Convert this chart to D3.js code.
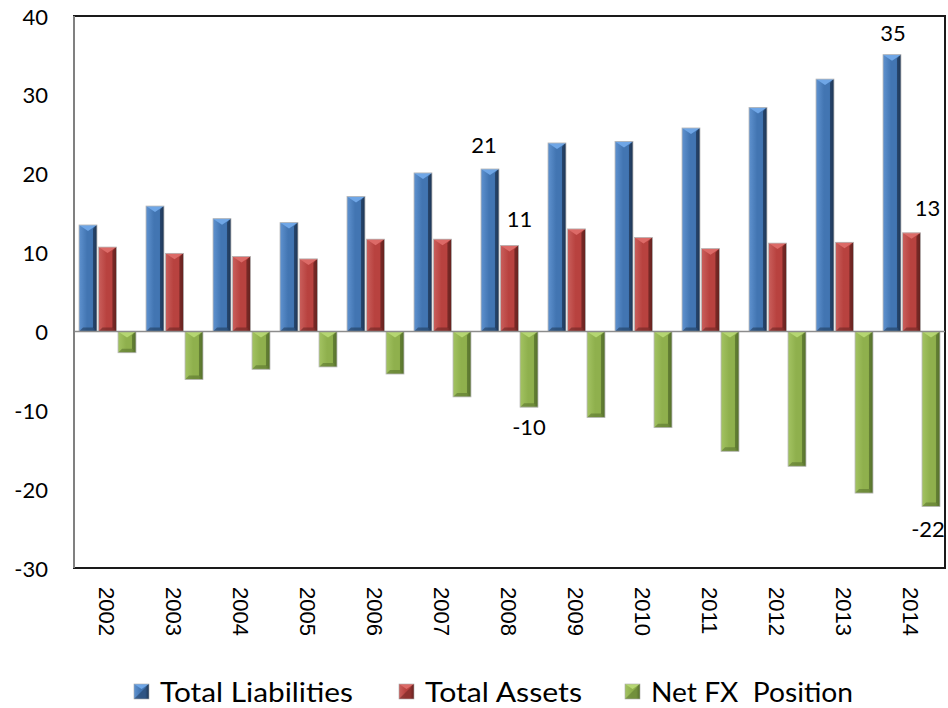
<!DOCTYPE html>
<html lang="en">
<head>
<meta charset="UTF-8">
<script src="https://d3js.org/d3.v7.min.js"></script>
<style>
  body { margin: 0; background: #fff; }
  .num { font: 22px Lato, "Open Sans", sans-serif; fill: #000; }
  .year { font: 22px "Liberation Sans", Arial, sans-serif; fill: #000; }
  .legend { font: 26px Lato, "Open Sans", sans-serif; fill: #000; white-space: pre; }
</style>
</head>
<body>
<svg width="948" height="708"></svg>
<script>
// values
var years = ["2002","2003","2004","2005","2006","2007","2008","2009","2010","2011","2012","2013","2014"];
var liabilities = [13.5, 15.9, 14.3, 13.8, 17.1, 20.1, 20.6, 23.9, 24.1, 25.8, 28.4, 32.0, 35.1];
var assets = [10.7, 9.9, 9.5, 9.2, 11.7, 11.7, 10.9, 13.0, 11.9, 10.5, 11.2, 11.3, 12.5];
var netFx = [-2.7, -6.1, -4.8, -4.5, -5.4, -8.3, -9.6, -10.9, -12.2, -15.2, -17.1, -20.5, -22.2];
var seriesNames = ["Total Liabilities", "Total Assets", "Net FX  Position"];
var yTicks = [40, 30, 20, 10, 0, -10, -20, -30];
// data labels shown on the chart (year, series index, text)
var labels = [
  {year: "2008", s: 0, text: "21", dx: -6, dy: -16},
  {year: "2008", s: 1, text: "11", dx: 10, dy: -18},
  {year: "2008", s: 2, text: "-10", dx: 0, dy: 28},
  {year: "2014", s: 0, text: "35", dx: 1, dy: -14},
  {year: "2014", s: 1, text: "13", dx: 16, dy: -17},
  {year: "2014", s: 2, text: "-22", dx: -3, dy: 31}
];

var colors = [
  {base: "#4275b2", light: "#5f92cf", top: "#6fa6e6", dark: "#1e3655"},
  {base: "#b8423f", light: "#c95f5c", top: "#dc6a67", dark: "#652220"},
  {base: "#8fb04d", light: "#a3c362", top: "#b5d672", dark: "#56702c"}
];

var seriesData = [liabilities, assets, netFx];

var svg = d3.select("svg"),
    plotL = 74, plotR = 945, plotT = 16, plotB = 568;

var x0 = d3.scaleBand().domain(years).range([plotL, plotR]).paddingInner(0.15).paddingOuter(0.075);
var x1 = d3.scaleBand().domain([0, 1, 2]).range([0, x0.bandwidth()]).paddingInner(0.08);
var y = d3.scaleLinear().domain([-30, 40]).range([plotB, plotT]);

var defs = svg.append("defs");
colors.forEach(function(c, i) {
  var g = defs.append("linearGradient").attr("id", "grad" + i).attr("x1", "0").attr("x2", "1").attr("y1", "0").attr("y2", "0");
  g.append("stop").attr("offset", "0").attr("stop-color", c.light);
  g.append("stop").attr("offset", "0.45").attr("stop-color", c.base);
  g.append("stop").attr("offset", "0.75").attr("stop-color", c.base);
  g.append("stop").attr("offset", "1").attr("stop-color", c.dark);
});

// plot frame
svg.append("rect")
  .attr("x", plotL).attr("y", plotT)
  .attr("width", plotR - plotL).attr("height", plotB - plotT)
  .attr("fill", "#fff").attr("stroke", "#1a1a1a").attr("stroke-width", 2);

var bars = [];
years.forEach(function(yr, i) {
  seriesData.forEach(function(arr, s) {
    bars.push({year: yr, s: s, v: arr[i]});
  });
});

var barG = svg.append("g");
bars.forEach(function(d) {
  var bx = x0(d.year) + x1(d.s), w = x1.bandwidth();
  var y0 = Math.min(y(d.v), y(0)), y1 = Math.max(y(d.v), y(0));
  var c = colors[d.s], b = 4, t = 6;
  var g = barG.append("g");
  g.append("rect").attr("x", bx).attr("y", y0).attr("width", w).attr("height", y1 - y0)
    .attr("fill", "url(#grad" + d.s + ")");
  // right bevel
  g.append("path")
    .attr("d", "M" + (bx + w) + "," + y0 + "L" + (bx + w - b) + "," + (y0 + b) + "L" + (bx + w - b) + "," + (y1 - b) + "L" + (bx + w) + "," + y1 + "Z")
    .attr("fill", c.dark).attr("opacity", 0.7);
  // bottom bevel
  g.append("path")
    .attr("d", "M" + bx + "," + y1 + "L" + (bx + b) + "," + (y1 - b) + "L" + (bx + w - b) + "," + (y1 - b) + "L" + (bx + w) + "," + y1 + "Z")
    .attr("fill", c.dark).attr("opacity", 0.55);
  // top chevron
  g.append("path")
    .attr("d", "M" + bx + "," + y0 + "L" + (bx + w) + "," + y0 + "L" + (bx + w / 2) + "," + (y0 + t) + "Z")
    .attr("fill", c.top);
  g.append("rect").attr("x", bx).attr("y", y0).attr("width", w).attr("height", y1 - y0)
    .attr("fill", "none").attr("stroke", "#b8b8b8").attr("stroke-width", 0.8);
});

// zero line and value axis line
svg.append("line").attr("x1", plotL).attr("x2", plotR).attr("y1", y(0)).attr("y2", y(0))
  .attr("stroke", "#8c8c8c").attr("stroke-width", 1.5);
svg.append("line").attr("x1", plotL).attr("x2", plotL).attr("y1", plotT).attr("y2", plotB)
  .attr("stroke", "#808080").attr("stroke-width", 2);

// y tick labels
svg.append("g").selectAll("text").data(yTicks).enter().append("text")
  .attr("class", "num")
  .attr("x", 48).attr("y", function(d) { return y(d); })
  .attr("text-anchor", "end").attr("dominant-baseline", "central")
  .text(function(d) { return d; });

// year labels (rotated)
svg.append("g").selectAll("text").data(years).enter().append("text")
  .attr("class", "year")
  .attr("transform", function(d) { return "translate(" + (x0(d) + x0.bandwidth() / 2 - 1) + ",587) rotate(90)"; })
  .attr("text-anchor", "start").attr("dominant-baseline", "central")
  .text(function(d) { return d; });

// data labels
svg.append("g").selectAll("text").data(labels).enter().append("text")
  .attr("class", "num")
  .attr("x", function(d) { return x0(d.year) + x1(d.s) + x1.bandwidth() / 2 + d.dx; })
  .attr("y", function(d) {
    var v = seriesData[d.s][years.indexOf(d.year)];
    return y(v) + d.dy;
  })
  .attr("text-anchor", "middle")
  .text(function(d) { return d.text; });

// legend
var legendX = [134, 399, 625], legendW = [193, 157, 202];
var lg = svg.append("g");
seriesNames.forEach(function(name, i) {
  var c = colors[i], mx = legendX[i], my = 684, m = 15;
  lg.append("rect").attr("x", mx).attr("y", my).attr("width", m).attr("height", m).attr("fill", "url(#grad" + i + ")");
  lg.append("path").attr("d", "M" + mx + "," + my + "L" + (mx + m) + "," + my + "L" + (mx + m / 2) + "," + (my + 5) + "Z").attr("fill", c.top);
  lg.append("path").attr("d", "M" + mx + "," + (my + m) + "L" + (mx + m) + "," + my + "L" + (mx + m) + "," + (my + m) + "Z").attr("fill", c.dark).attr("opacity", 0.5);
  lg.append("rect").attr("x", mx).attr("y", my).attr("width", m).attr("height", m).attr("fill", "none").attr("stroke", "#aaa").attr("stroke-width", 0.6);
  lg.append("text").attr("class", "legend")
    .attr("x", mx + 26).attr("y", 702)
    .attr("textLength", legendW[i]).attr("lengthAdjust", "spacingAndGlyphs")
    .text(name);
});
</script>
</body>
</html>
